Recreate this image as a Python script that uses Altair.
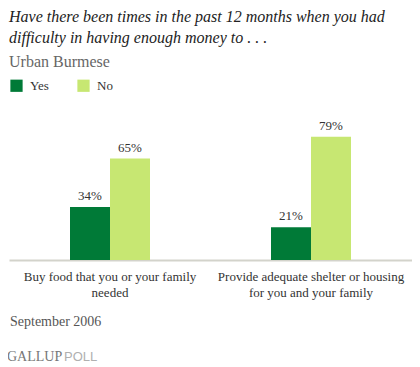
import altair as alt
import pandas as pd

categories = ["Buy food that you or your family|needed",
              "Provide adequate shelter or housing|for you and your family"]
answers = ["Yes", "No"]
yes_values = [34, 21]
no_values = [65, 79]

rows = []
for c, y, n in zip(categories, yes_values, no_values):
    rows.append({"cat": c, "ans": "Yes", "val": y, "lab": f"{y}%"})
    rows.append({"cat": c, "ans": "No", "val": n, "lab": f"{n}%"})
df = pd.DataFrame(rows)

SERIF = "Liberation Serif"

base = alt.Chart(df).encode(
    x=alt.X("cat:N", sort=categories, title=None,
            scale=alt.Scale(paddingInner=0.602, paddingOuter=0.3035),
            axis=alt.Axis(labelAngle=0, labelExpr="split(datum.label, '|')",
                          labelFont=SERIF, labelFontSize=13, labelColor="#333333",
                          labelLineHeight=16, labelPadding=10, ticks=False,
                          domainColor="#D3D3CB", domainWidth=2, labelLimit=300)),
    xOffset=alt.XOffset("ans:N", sort=answers,
                        scale=alt.Scale(paddingInner=0, paddingOuter=0)),
)

bars = base.mark_bar().encode(
    y=alt.Y("val:Q", scale=alt.Scale(domain=[0, 100]), axis=None),
    color=alt.Color("ans:N", sort=answers,
                    scale=alt.Scale(domain=answers, range=["#007A37", "#C7E772"]),
                    legend=alt.Legend(title=None, orient="none", legendX=1, legendY=-25,
                                      direction="horizontal", symbolType="square",
                                      symbolSize=150, symbolStrokeWidth=0,
                                      labelFont=SERIF, labelFontSize=13, labelColor="#333333",
                                      labelOffset=7, columnPadding=28, padding=0)),
)

texts = base.mark_text(baseline="bottom", dy=-4, font=SERIF, fontSize=13, color="#333333").encode(
    y=alt.Y("val:Q"),
    text="lab:N",
)

footer_df = pd.DataFrame({"t": ["September 2006"]})
footer = alt.Chart(footer_df).mark_text(align="left", baseline="middle", font=SERIF,
                                         fontSize=14, color="#555555").encode(
    x=alt.value(1), y=alt.value(218), text="t:N")
g1 = alt.Chart(pd.DataFrame({"t": ["GALLUP"]})).mark_text(
    align="left", baseline="middle", font=SERIF, fontSize=14, color="#777777").encode(
    x=alt.value(-2), y=alt.value(253), text="t:N")
g2 = alt.Chart(pd.DataFrame({"t": ["POLL"]})).mark_text(
    align="left", baseline="middle", font="Liberation Sans", fontSize=13, color="#B0B0B0").encode(
    x=alt.value(55), y=alt.value(253), text="t:N")

chart = alt.layer(bars, texts, footer, g1, g2).properties(
    width=403, height=156,
    autosize=alt.AutoSizeParams(type="none"),
    padding={"left": 1, "top": 96, "right": 0, "bottom": 105},
    title=alt.TitleParams(
        text=["Have there been times in the past 12 months when you had",
              "difficulty in having enough money to . . ."],
        subtitle="Urban Burmese",
        anchor="start", frame="group", font=SERIF, fontSize=16, fontStyle="italic",
        fontWeight="normal", color="#222222", lineHeight=21,
        subtitleFont=SERIF, subtitleFontSize=16, subtitleColor="#666666",
        subtitlePadding=8, offset=9),
).configure_view(strokeWidth=0)

chart.save("out.html", embed_options={"renderer": "svg", "actions": False})
